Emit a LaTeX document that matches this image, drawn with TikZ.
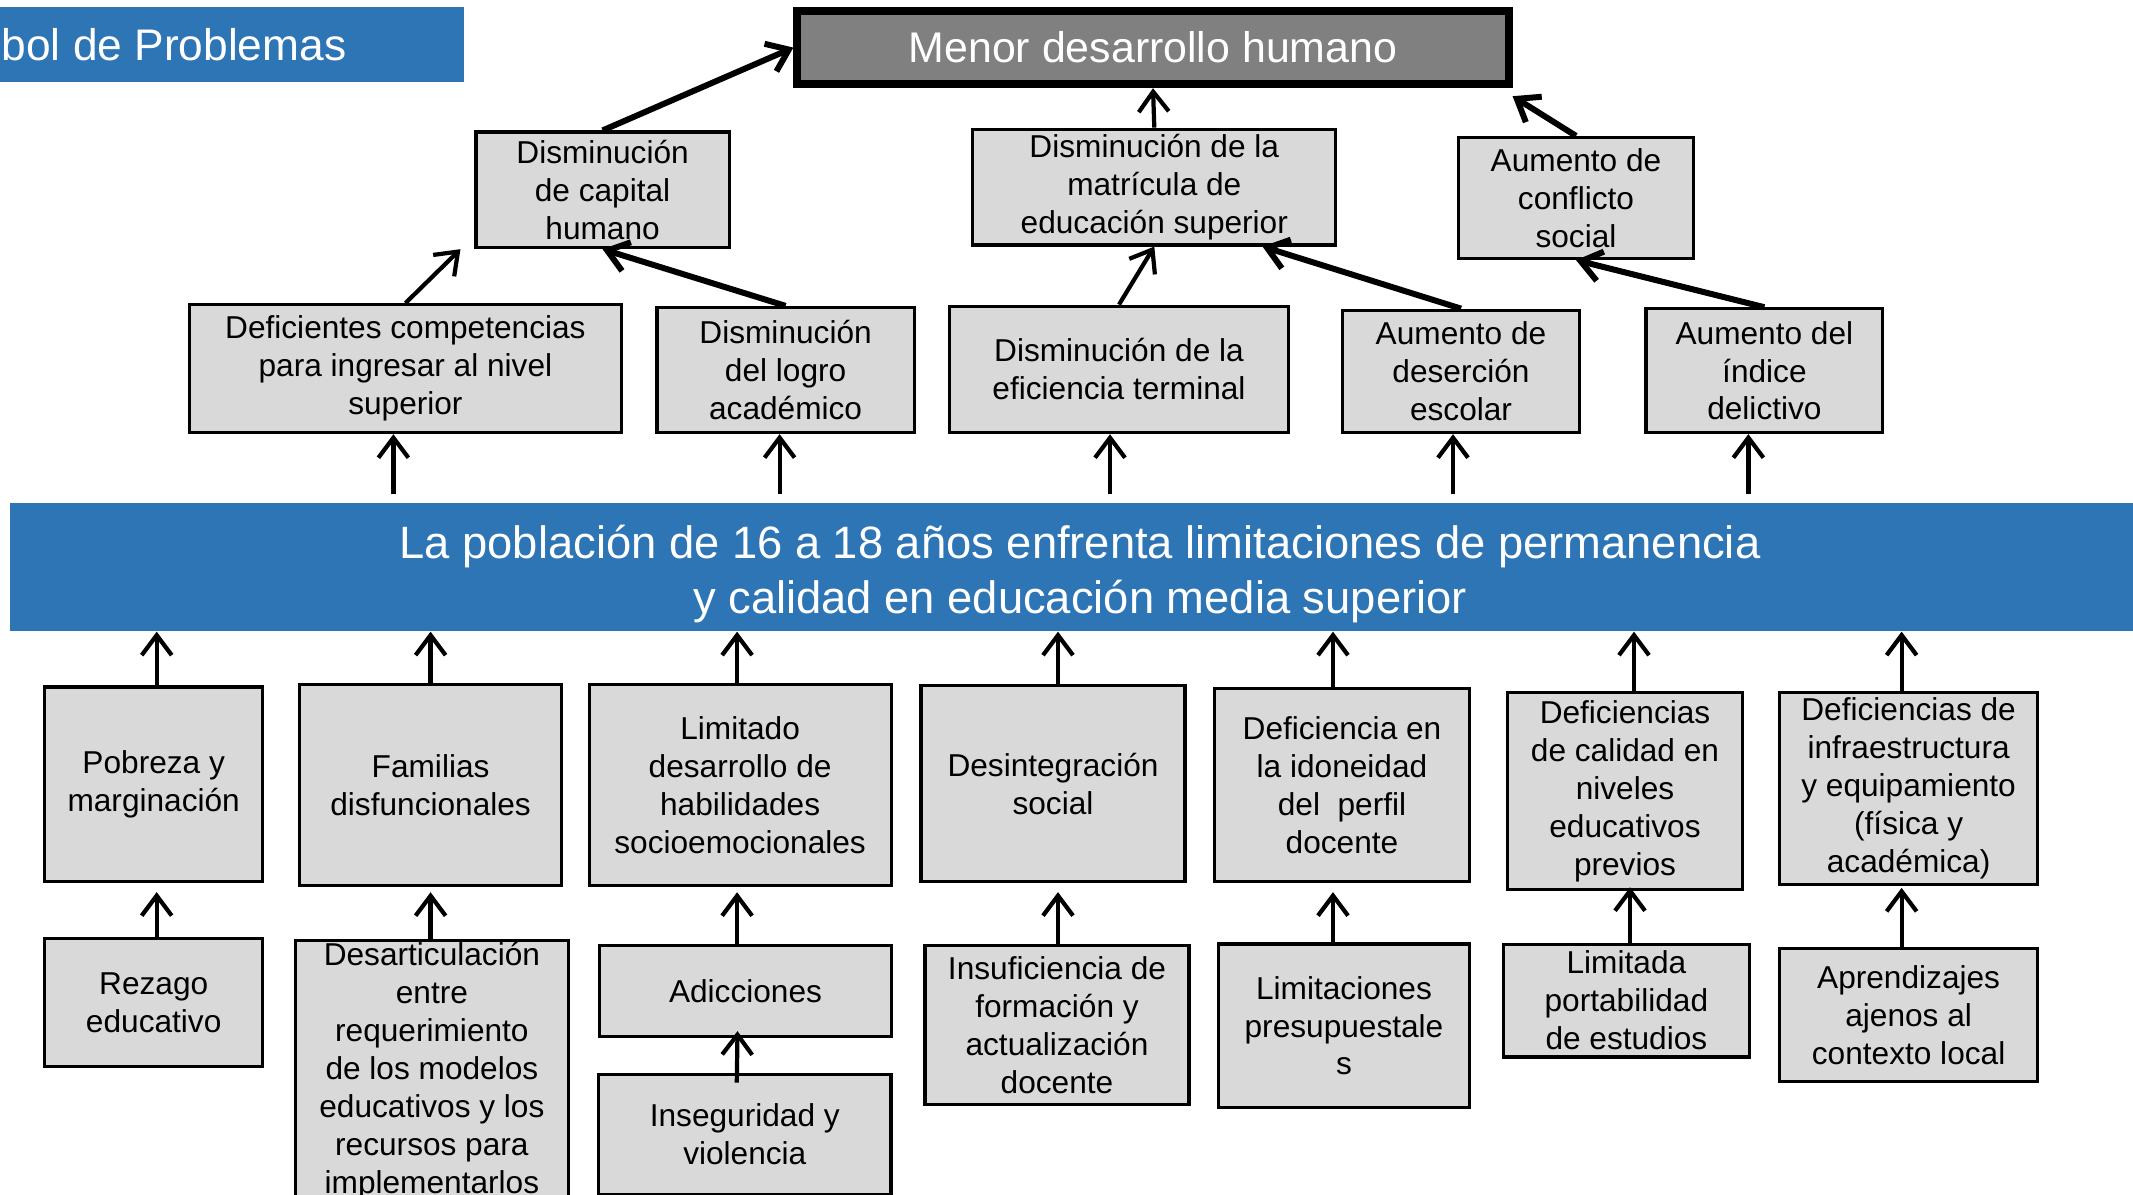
\documentclass[tikz,border=0pt]{standalone}
\usepackage{fontspec}
\setmainfont{Liberation Sans}
\usetikzlibrary{arrows.meta}
\definecolor{bannerblue}{RGB}{46,117,182}
\definecolor{boxgray}{RGB}{217,217,217}
\definecolor{topgray}{RGB}{128,128,128}
\tikzset{
	problema/.style={draw=black, line width=0.9pt, fill=boxgray, align=center, inner sep=0.5pt, font=\fontsize{9}{10.8}\selectfont},
	flecha/.style={line width=1.2pt, -{Straight Barb[length=2mm,width=3mm]}},
	flechagruesa/.style={flecha, line width=1.7pt}
}

\begin{document}
\begin{tikzpicture}
			%%%%% START %%%%%
			\useasboundingbox (0,0) rectangle (21.33,-11.95);
			\clip (0,0) rectangle (21.33,-11.95);
			
			\fill[bannerblue] (0,-0.068) rectangle (4.639,-0.816);
			\node[anchor=west, inner sep=0, text=white, font=\fontsize{12.6}{14}\selectfont] (titulo) at (0.01,-0.449) {bol de Problemas};
			
			\node[problema, fill=topgray, line width=2.2pt, text=white, font=\fontsize{12.2}{14}\selectfont, minimum width=7.115cm, minimum height=0.735cm] (menor) at (11.53,-0.476) {Menor desarrollo humano};
			
			%%%%% EFECTOS %%%%%
			\node[problema, minimum width=2.531cm, minimum height=1.156cm] (cap) at (6.026,-1.898) {Disminución\\de capital\\humano};
			\node[problema, minimum width=3.632cm, minimum height=1.157cm] (mat) at (11.543,-1.871) {Disminución de la\\matrícula de\\educación superior};
			\node[problema, minimum width=2.354cm, minimum height=1.211cm] (conf) at (15.76,-1.98) {Aumento de\\conflicto\\social};
			
			\node[problema, minimum width=4.326cm, minimum height=1.279cm] (comp) at (4.054,-3.687) {Deficientes competencias\\para ingresar al nivel\\superior};
			\node[problema, minimum width=2.571cm, minimum height=1.251cm] (logro) at (7.856,-3.70) {Disminución\\del logro\\académico};
			\node[problema, minimum width=3.387cm, minimum height=1.265cm] (efic) at (11.19,-3.694) {Disminución de la\\eficiencia terminal};
			\node[problema, minimum width=2.367cm, minimum height=1.224cm] (deser) at (14.61,-3.714) {Aumento de\\deserción\\escolar};
			\node[problema, minimum width=2.367cm, minimum height=1.238cm] (delic) at (17.644,-3.707) {Aumento del\\índice\\delictivo};
			
			%%%%% PROBLEMA CENTRAL %%%%%
			\node[fill=bannerblue, inner sep=0, minimum width=21.405cm, minimum height=1.279cm] (banner) at (10.80,-5.67) {};
			\node[text=white, align=center, inner sep=0, font=\fontsize{12.9}{15.4}\selectfont] (centro) at (10.80,-5.74) {La población de 16 a 18 años enfrenta limitaciones de permanencia\\y calidad en educación media superior};
			
			%%%%% CAUSAS %%%%%
			\node[problema, minimum width=2.177cm, minimum height=1.945cm] (pobreza) at (1.537,-7.843) {Pobreza y\\marginación};
			\node[problema, minimum width=2.625cm, minimum height=2.013cm] (familias) at (4.306,-7.85) {Familias\\disfuncionales};
			\node[problema, minimum width=3.02cm, minimum height=2.013cm] (limitado) at (7.401,-7.85) {Limitado\\desarrollo de\\habilidades\\socioemocionales};
			\node[problema, minimum width=2.639cm, minimum height=1.959cm] (desint) at (10.53,-7.836) {Desintegración\\social};
			\node[problema, minimum width=2.544cm, minimum height=1.931cm] (idon) at (13.42,-7.85) {Deficiencia en\\la idoneidad\\del~~perfil\\docente};
			\node[problema, minimum width=2.354cm, minimum height=1.973cm] (calidad) at (16.25,-7.91) {Deficiencias\\de calidad en\\niveles\\educativos\\previos};
			\node[problema, minimum width=2.585cm, minimum height=1.919cm] (infra) at (19.086,-7.883) {Deficiencias de\\infraestructura\\y equipamiento\\(física y\\académica)};
			
			\node[problema, minimum width=2.177cm, minimum height=1.279cm] (rezago) at (1.537,-10.026) {Rezago\\educativo};
			\node[problema, anchor=north, minimum width=2.734cm] (desart) at (4.319,-9.387) {Desarticulación\\entre\\requerimiento\\de los modelos\\educativos y los\\recursos para\\implementarlos};
			\node[problema, minimum width=2.912cm, minimum height=0.911cm] (adicc) at (7.455,-9.91) {Adicciones};
			\node[problema, minimum width=2.925cm, minimum height=1.197cm] (inseg) at (7.448,-11.346) {Inseguridad y\\violencia};
			\node[problema, minimum width=2.639cm, minimum height=1.591cm] (insuf) at (10.57,-10.25) {Insuficiencia de\\formación y\\actualización\\docente};
			\node[problema, minimum width=2.503cm, minimum height=1.633cm] (limpres) at (13.44,-10.257) {Limitaciones\\presupuestale\\s};
			\node[problema, minimum width=2.463cm, minimum height=1.129cm] (portab) at (16.264,-10.006) {Limitada\\portabilidad\\de estudios};
			\node[problema, minimum width=2.585cm, minimum height=1.333cm] (aprend) at (19.086,-10.149) {Aprendizajes\\ajenos al\\contexto local};
			
			%%%%% FLECHAS %%%%%
			\draw[flechagruesa] (cap.north) -- (menor.west);
			\draw[flecha] (mat.north) -- (menor.south);
			\draw[flechagruesa] (conf.north) -- ([yshift=-0.08cm]menor.south east);
			
			\draw[flecha] (comp.north) -- ([xshift=-0.14cm]cap.south west);
			\draw[flechagruesa] (logro.north) -- (cap.south);
			\draw[flecha] (efic.north) -- (mat.south);
			\draw[flechagruesa] (deser.north) -- ([xshift=-0.75cm]mat.south east);
			\draw[flechagruesa] (delic.north) -- (conf.south);
			
			\draw[flecha] ([xshift=-0.12cm,yshift=0.08cm]comp.south |- banner.north) -- ([xshift=-0.12cm]comp.south);
			\draw[flecha] ([xshift=-0.06cm,yshift=0.08cm]logro.south |- banner.north) -- ([xshift=-0.06cm]logro.south);
			\draw[flecha] ([xshift=-0.09cm,yshift=0.08cm]efic.south |- banner.north) -- ([xshift=-0.09cm]efic.south);
			\draw[flecha] ([xshift=-0.08cm,yshift=0.08cm]deser.south |- banner.north) -- ([xshift=-0.08cm]deser.south);
			\draw[flecha] ([xshift=-0.16cm,yshift=0.08cm]delic.south |- banner.north) -- ([xshift=-0.16cm]delic.south);
			
			\draw[flecha] ([xshift=0.03cm]pobreza.north) -- ([xshift=0.03cm]pobreza.north |- banner.south);
			\draw[flecha] (familias.north) -- (familias.north |- banner.south);
			\draw[flecha] ([xshift=-0.03cm]limitado.north) -- ([xshift=-0.03cm]limitado.north |- banner.south);
			\draw[flecha] ([xshift=0.05cm]desint.north) -- ([xshift=0.05cm]desint.north |- banner.south);
			\draw[flecha] ([xshift=-0.09cm]idon.north) -- ([xshift=-0.09cm]idon.north |- banner.south);
			\draw[flecha] ([xshift=0.09cm]calidad.north) -- ([xshift=0.09cm]calidad.north |- banner.south);
			\draw[flecha] ([xshift=-0.07cm]infra.north) -- ([xshift=-0.07cm]infra.north |- banner.south);
			
			\draw[flecha] ([xshift=0.03cm]pobreza.south |- rezago.north) -- ([xshift=0.03cm,yshift=-0.09cm]pobreza.south);
			\draw[flecha] (familias.south |- desart.north) -- ([yshift=-0.05cm]familias.south);
			\draw[flecha] ([xshift=-0.03cm]limitado.south |- adicc.north) -- ([xshift=-0.03cm,yshift=-0.05cm]limitado.south);
			\draw[flecha] ([xshift=0.05cm]desint.south |- insuf.north) -- ([xshift=0.05cm,yshift=-0.09cm]desint.south);
			\draw[flecha] ([xshift=-0.09cm]idon.south |- limpres.north) -- ([xshift=-0.09cm,yshift=-0.09cm]idon.south);
			\draw[flecha] ([xshift=0.05cm]calidad.south |- portab.north) -- ([xshift=0.05cm,yshift=0.04cm]calidad.south);
			\draw[flecha] ([xshift=-0.07cm]infra.south |- aprend.north) -- ([xshift=-0.07cm,yshift=-0.02cm]infra.south);
			
			\draw[flecha] ([xshift=-0.08cm,yshift=-0.095cm]inseg.north) -- ([xshift=-0.08cm,yshift=0.07cm]adicc.south);
			%%%%% END %%%%%
\end{tikzpicture}
\end{document}
